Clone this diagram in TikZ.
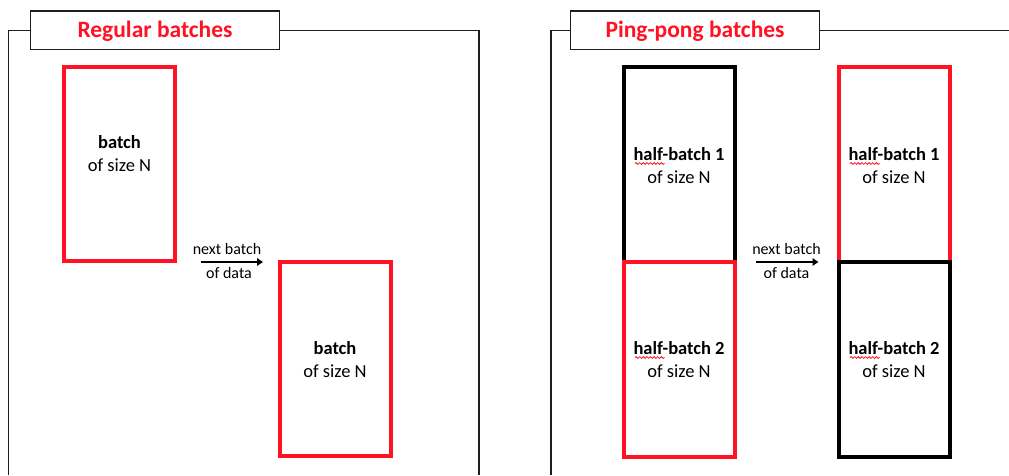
\documentclass[tikz,border=0pt]{standalone}
\usepackage{fontspec}
\setmainfont{Carlito}
\usetikzlibrary{arrows.meta,decorations.pathmorphing}
\definecolor{batchred}{RGB}{255,18,36}
\definecolor{framegray}{RGB}{30,30,30}
\tikzset{
  frameline/.style={draw=framegray, line width=1.3pt},
  titlebox/.style={draw=framegray, line width=1.3pt, fill=white, minimum width=248.6pt, minimum height=38.7pt, inner sep=0pt,
    text height=17pt, text depth=2.4pt,
    font=\fontsize{23.5}{26}\selectfont\bfseries, text=batchred},
  redbox/.style={draw=batchred, line width=4pt, minimum width=111pt, minimum height=194pt, inner sep=0pt},
  blackbox/.style={draw=black, line width=4pt, minimum width=111pt, minimum height=194.5pt, inner sep=0pt},
  boxlabel/.style={align=center, inner sep=0pt, font=\fontsize{18.5}{23}\selectfont},
  datalabel/.style={inner sep=0pt, font=\fontsize{16}{18}\selectfont},
  dataarrow/.style={line width=2.8pt, -{Triangle[length=6pt,width=7.5pt]}},
  squiggle/.style={draw=batchred, line width=0.8pt, decorate, decoration={snake, amplitude=0.9pt, segment length=3.6pt}}
}
\begin{document}
\begin{tikzpicture}[x=1pt, y=-1pt]
\useasboundingbox (0,0) rectangle (1009,475);

% ---- left panel: regular batches ----
\coordinate (lTL) at (8.5,30.5);
\coordinate (lBL) at (8.5,475);
\coordinate (lTR) at (479,30.5);
\coordinate (lBR) at (479,475);
\draw[frameline] (lBL) -- (lTL) -- (lTR) -- (lBR);
\node[titlebox] (lTitle) at (155,30.4) {Regular batches};

\node[redbox] (b1) at (119.5,164) {};
\node[boxlabel] (b1t) at (119.5,154) {\bfseries batch\\of size N};
\node[redbox] (b2) at (335,359) {};
\node[boxlabel] (b2t) at (335,360) {\bfseries batch\\of size N};

\coordinate (la1) at (200.7,262);
\coordinate (la2) at (263,262);
\draw[dataarrow] (la1) -- (la2);
\node[datalabel] (lnext) at (227,249) {next batch};
\node[datalabel] (ldata) at (229,273) {of data};

% ---- right panel: ping-pong batches ----
\coordinate (rTL) at (551,30.5);
\coordinate (rBL) at (551,475);
\coordinate (rTR) at (1009,30.5);
\draw[frameline] (rBL) -- (rTL) -- (rTR);
\node[titlebox] (rTitle) at (695,30.4) {Ping-pong batches};

% first step: half-batch 1 idle, half-batch 2 active
\node[blackbox] (p1) at (679,164.7) {};
\node[redbox, minimum height=194.5pt] (p2) at (679,359.3) {};
% second step: half-batch 1 active, half-batch 2 idle
\node[redbox, minimum height=194.5pt] (q1) at (894,164.7) {};
\node[blackbox] (q2) at (894,359.3) {};

\foreach \n/\x/\y/\k in {p1l/679/166/1, p2l/679/360/2, q1l/894/166/1, q2l/894/360/2}{
  \node[boxlabel] (\n) at (\x,\y) {\bfseries half-batch \k\\of size N};
}
% spell-check marks under "half"
\foreach \x/\y in {635/163.5, 635/357.5, 850/163.5, 850/357.5}{
  \draw[squiggle] (\x,\y) -- ++(29.5,0);
}

\coordinate (ra1) at (756,262);
\coordinate (ra2) at (818.5,262);
\draw[dataarrow] (ra1) -- (ra2);
\node[datalabel] (rnext) at (786.5,249) {next batch};
\node[datalabel] (rdata) at (786.5,273) {of data};
\end{tikzpicture}
\end{document}
